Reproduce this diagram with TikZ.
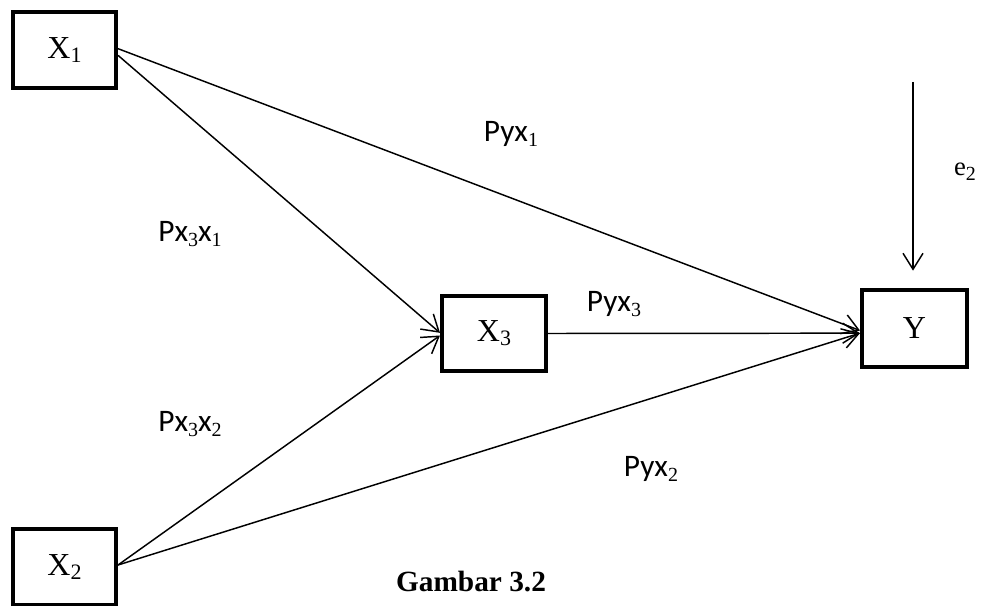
\documentclass[tikz,border=0pt]{standalone}
\usepackage{fontspec}
\setmainfont{Liberation Serif}
\newfontfamily\calfont{Carlito}
\usetikzlibrary{arrows.meta}
\newcommand\subX[1]{\raisebox{-3pt}{\fontsize{16.5}{16.5}\selectfont\rmfamily #1}}
\newcommand\subP[1]{\raisebox{-3.5pt}{\fontsize{15}{15}\selectfont\rmfamily #1}}
\tikzset{
  varbox/.style={draw, line width=3pt, inner sep=0pt, fill=white,
    font=\fontsize{24}{24}\selectfont},
  conn/.style={line width=1.1pt, -{Straight Barb[length=12pt,width=15pt,line width=1.1pt]}},
  plab/.style={font=\calfont\fontsize{23.5}{23.5}\selectfont, inner sep=0pt},
}
\begin{document}
\begin{tikzpicture}[x=0.75pt,y=-0.75pt]
\useasboundingbox (0,0) rectangle (984,606);
\node[varbox, minimum width=77.25pt, minimum height=57pt] (X1) at (64.5,50) {X\subX{1}};
\node[varbox, minimum width=77.25pt, minimum height=57pt] (X2) at (64.5,567) {X\subX{2}};
\node[varbox, minimum width=78pt, minimum height=56.25pt] (X3) at (494,333.5) {X\subX{3}};
\node[varbox, minimum width=78.75pt, minimum height=57.75pt] (Y) at (914.5,328.5) {Y};
\coordinate (etop) at (913,82);

\draw[conn] ([yshift=1pt]X1.east) -- ([yshift=-1.5pt]Y.west);
\draw[conn] ([yshift=-4pt]X1.east) -- ([yshift=0.5pt]X3.west);
\draw[conn] ([yshift=1.5pt]X2.east) -- ([yshift=-1.5pt]X3.west);
\draw[conn] ([yshift=1.5pt]X2.east) -- ([yshift=-3.5pt]Y.west);
\draw[conn] (X3.east) -- ([yshift=-3.5pt]Y.west);
\draw[conn] (etop) -- ([yshift=13pt]Y.north -| etop);

\node[plab] (l1) at (511,134) {Pyx\subP{1}};
\node[plab] (l2) at (190,234) {Px\subP{3}x\subP{1}};
\node[plab] (l3) at (190,424) {Px\subP{3}x\subP{2}};
\node[plab] (l4) at (614,304) {Pyx\subP{3}};
\node[plab] (l5) at (651,469) {Pyx\subP{2}};
\node[inner sep=0pt, font=\fontsize{20}{20}\selectfont] (le) at (965,172) {e\subP{2}};
\node[inner sep=0pt, font=\bfseries\fontsize{22}{22}\selectfont] (cap) at (471,582) {Gambar 3.2};
\end{tikzpicture}
\end{document}
